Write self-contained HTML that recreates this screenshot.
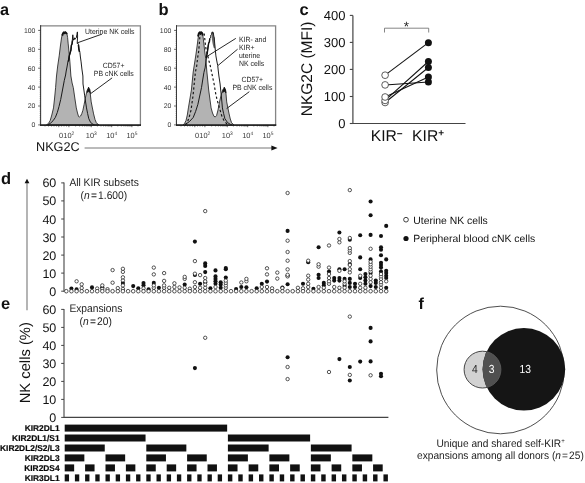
<!DOCTYPE html>
<html lang="en"><head><meta charset="utf-8"><title>Figure</title>
<style>html,body{margin:0;padding:0;background:#fff}svg{display:block;will-change:transform}</style></head>
<body>
<svg width="585" height="483" viewBox="0 0 585 483" text-rendering="geometricPrecision" font-family='"Liberation Sans", Arial, Helvetica, sans-serif'>
<rect width="585" height="483" fill="#fff"/>
<text x="0.0" y="14.5" font-size="16.3" font-weight="bold" fill="#111">a</text>
<text x="158.6" y="14.5" font-size="16.5" font-weight="bold" fill="#111">b</text>
<text x="299.6" y="14.5" font-size="16.5" font-weight="bold" fill="#111">c</text>
<text x="1.0" y="183.7" font-size="16.5" font-weight="bold" fill="#111">d</text>
<text x="1.0" y="309.3" font-size="16.5" font-weight="bold" fill="#111">e</text>
<text x="418.5" y="309.4" font-size="16" font-weight="bold" fill="#111">f</text>
<path d="M40.6,25.8 H140.4 V124.9" fill="none" stroke="#858585" stroke-width="1.3"/>
<line x1="38.2" y1="124.9" x2="40.6" y2="124.9" stroke="#333" stroke-width="0.8"/>
<text x="35.4" y="127.3" font-size="6.9" text-anchor="end" fill="#383838">0</text>
<line x1="38.2" y1="106.0" x2="40.6" y2="106.0" stroke="#333" stroke-width="0.8"/>
<text x="35.4" y="108.4" font-size="6.9" text-anchor="end" fill="#383838">20</text>
<line x1="38.2" y1="87.1" x2="40.6" y2="87.1" stroke="#333" stroke-width="0.8"/>
<text x="35.4" y="89.5" font-size="6.9" text-anchor="end" fill="#383838">40</text>
<line x1="38.2" y1="68.2" x2="40.6" y2="68.2" stroke="#333" stroke-width="0.8"/>
<text x="35.4" y="70.6" font-size="6.9" text-anchor="end" fill="#383838">60</text>
<line x1="38.2" y1="49.3" x2="40.6" y2="49.3" stroke="#333" stroke-width="0.8"/>
<text x="35.4" y="51.7" font-size="6.9" text-anchor="end" fill="#383838">80</text>
<line x1="38.2" y1="30.4" x2="40.6" y2="30.4" stroke="#333" stroke-width="0.8"/>
<text x="35.4" y="32.8" font-size="6.9" text-anchor="end" fill="#383838">100</text>
<line x1="39.6" y1="123.0" x2="40.6" y2="123.0" stroke="#444" stroke-width="0.5"/>
<line x1="39.6" y1="121.1" x2="40.6" y2="121.1" stroke="#444" stroke-width="0.5"/>
<line x1="39.6" y1="119.2" x2="40.6" y2="119.2" stroke="#444" stroke-width="0.5"/>
<line x1="39.6" y1="117.3" x2="40.6" y2="117.3" stroke="#444" stroke-width="0.5"/>
<line x1="39.6" y1="115.5" x2="40.6" y2="115.5" stroke="#444" stroke-width="0.5"/>
<line x1="39.6" y1="113.6" x2="40.6" y2="113.6" stroke="#444" stroke-width="0.5"/>
<line x1="39.6" y1="111.7" x2="40.6" y2="111.7" stroke="#444" stroke-width="0.5"/>
<line x1="39.6" y1="109.8" x2="40.6" y2="109.8" stroke="#444" stroke-width="0.5"/>
<line x1="39.6" y1="107.9" x2="40.6" y2="107.9" stroke="#444" stroke-width="0.5"/>
<line x1="39.6" y1="104.1" x2="40.6" y2="104.1" stroke="#444" stroke-width="0.5"/>
<line x1="39.6" y1="102.2" x2="40.6" y2="102.2" stroke="#444" stroke-width="0.5"/>
<line x1="39.6" y1="100.3" x2="40.6" y2="100.3" stroke="#444" stroke-width="0.5"/>
<line x1="39.6" y1="98.4" x2="40.6" y2="98.4" stroke="#444" stroke-width="0.5"/>
<line x1="39.6" y1="96.6" x2="40.6" y2="96.6" stroke="#444" stroke-width="0.5"/>
<line x1="39.6" y1="94.7" x2="40.6" y2="94.7" stroke="#444" stroke-width="0.5"/>
<line x1="39.6" y1="92.8" x2="40.6" y2="92.8" stroke="#444" stroke-width="0.5"/>
<line x1="39.6" y1="90.9" x2="40.6" y2="90.9" stroke="#444" stroke-width="0.5"/>
<line x1="39.6" y1="89.0" x2="40.6" y2="89.0" stroke="#444" stroke-width="0.5"/>
<line x1="39.6" y1="85.2" x2="40.6" y2="85.2" stroke="#444" stroke-width="0.5"/>
<line x1="39.6" y1="83.3" x2="40.6" y2="83.3" stroke="#444" stroke-width="0.5"/>
<line x1="39.6" y1="81.4" x2="40.6" y2="81.4" stroke="#444" stroke-width="0.5"/>
<line x1="39.6" y1="79.5" x2="40.6" y2="79.5" stroke="#444" stroke-width="0.5"/>
<line x1="39.6" y1="77.7" x2="40.6" y2="77.7" stroke="#444" stroke-width="0.5"/>
<line x1="39.6" y1="75.8" x2="40.6" y2="75.8" stroke="#444" stroke-width="0.5"/>
<line x1="39.6" y1="73.9" x2="40.6" y2="73.9" stroke="#444" stroke-width="0.5"/>
<line x1="39.6" y1="72.0" x2="40.6" y2="72.0" stroke="#444" stroke-width="0.5"/>
<line x1="39.6" y1="70.1" x2="40.6" y2="70.1" stroke="#444" stroke-width="0.5"/>
<line x1="39.6" y1="66.3" x2="40.6" y2="66.3" stroke="#444" stroke-width="0.5"/>
<line x1="39.6" y1="64.4" x2="40.6" y2="64.4" stroke="#444" stroke-width="0.5"/>
<line x1="39.6" y1="62.5" x2="40.6" y2="62.5" stroke="#444" stroke-width="0.5"/>
<line x1="39.6" y1="60.6" x2="40.6" y2="60.6" stroke="#444" stroke-width="0.5"/>
<line x1="39.6" y1="58.8" x2="40.6" y2="58.8" stroke="#444" stroke-width="0.5"/>
<line x1="39.6" y1="56.9" x2="40.6" y2="56.9" stroke="#444" stroke-width="0.5"/>
<line x1="39.6" y1="55.0" x2="40.6" y2="55.0" stroke="#444" stroke-width="0.5"/>
<line x1="39.6" y1="53.1" x2="40.6" y2="53.1" stroke="#444" stroke-width="0.5"/>
<line x1="39.6" y1="51.2" x2="40.6" y2="51.2" stroke="#444" stroke-width="0.5"/>
<line x1="39.6" y1="47.4" x2="40.6" y2="47.4" stroke="#444" stroke-width="0.5"/>
<line x1="39.6" y1="45.5" x2="40.6" y2="45.5" stroke="#444" stroke-width="0.5"/>
<line x1="39.6" y1="43.6" x2="40.6" y2="43.6" stroke="#444" stroke-width="0.5"/>
<line x1="39.6" y1="41.7" x2="40.6" y2="41.7" stroke="#444" stroke-width="0.5"/>
<line x1="39.6" y1="39.9" x2="40.6" y2="39.9" stroke="#444" stroke-width="0.5"/>
<line x1="39.6" y1="38.0" x2="40.6" y2="38.0" stroke="#444" stroke-width="0.5"/>
<line x1="39.6" y1="36.1" x2="40.6" y2="36.1" stroke="#444" stroke-width="0.5"/>
<line x1="39.6" y1="34.2" x2="40.6" y2="34.2" stroke="#444" stroke-width="0.5"/>
<line x1="39.6" y1="32.3" x2="40.6" y2="32.3" stroke="#444" stroke-width="0.5"/>
<text x="63.2" y="137.5" font-size="7.4" text-anchor="end" fill="#3a3a3a">0</text>
<text x="63.3" y="137.5" font-size="7.4" fill="#3a3a3a">10<tspan font-size="4.9" dy="-2.8">2</tspan></text>
<text x="85.8" y="137.5" font-size="7.4" fill="#3a3a3a">10<tspan font-size="4.9" dy="-2.8">3</tspan></text>
<text x="106.2" y="137.5" font-size="7.4" fill="#3a3a3a">10<tspan font-size="4.9" dy="-2.8">4</tspan></text>
<text x="126.4" y="137.5" font-size="7.4" fill="#3a3a3a">10<tspan font-size="4.9" dy="-2.8">5</tspan></text>
<line x1="58.8" y1="124.9" x2="58.8" y2="127.2" stroke="#333" stroke-width="0.7"/>
<line x1="68.9" y1="124.9" x2="68.9" y2="127.2" stroke="#333" stroke-width="0.7"/>
<line x1="91.3" y1="124.9" x2="91.3" y2="127.2" stroke="#333" stroke-width="0.7"/>
<line x1="111.7" y1="124.9" x2="111.7" y2="127.2" stroke="#333" stroke-width="0.7"/>
<line x1="131.9" y1="124.9" x2="131.9" y2="127.2" stroke="#333" stroke-width="0.7"/>
<line x1="75.6" y1="124.9" x2="75.6" y2="126.5" stroke="#333" stroke-width="0.6"/>
<line x1="79.6" y1="124.9" x2="79.6" y2="126.5" stroke="#333" stroke-width="0.6"/>
<line x1="82.4" y1="124.9" x2="82.4" y2="126.5" stroke="#333" stroke-width="0.6"/>
<line x1="84.6" y1="124.9" x2="84.6" y2="126.5" stroke="#333" stroke-width="0.6"/>
<line x1="86.3" y1="124.9" x2="86.3" y2="126.5" stroke="#333" stroke-width="0.6"/>
<line x1="87.8" y1="124.9" x2="87.8" y2="126.5" stroke="#333" stroke-width="0.6"/>
<line x1="89.1" y1="124.9" x2="89.1" y2="126.5" stroke="#333" stroke-width="0.6"/>
<line x1="90.3" y1="124.9" x2="90.3" y2="126.5" stroke="#333" stroke-width="0.6"/>
<line x1="97.4" y1="124.9" x2="97.4" y2="126.5" stroke="#333" stroke-width="0.6"/>
<line x1="101.0" y1="124.9" x2="101.0" y2="126.5" stroke="#333" stroke-width="0.6"/>
<line x1="103.6" y1="124.9" x2="103.6" y2="126.5" stroke="#333" stroke-width="0.6"/>
<line x1="105.6" y1="124.9" x2="105.6" y2="126.5" stroke="#333" stroke-width="0.6"/>
<line x1="107.2" y1="124.9" x2="107.2" y2="126.5" stroke="#333" stroke-width="0.6"/>
<line x1="108.5" y1="124.9" x2="108.5" y2="126.5" stroke="#333" stroke-width="0.6"/>
<line x1="109.7" y1="124.9" x2="109.7" y2="126.5" stroke="#333" stroke-width="0.6"/>
<line x1="110.8" y1="124.9" x2="110.8" y2="126.5" stroke="#333" stroke-width="0.6"/>
<line x1="117.8" y1="124.9" x2="117.8" y2="126.5" stroke="#333" stroke-width="0.6"/>
<line x1="121.3" y1="124.9" x2="121.3" y2="126.5" stroke="#333" stroke-width="0.6"/>
<line x1="123.9" y1="124.9" x2="123.9" y2="126.5" stroke="#333" stroke-width="0.6"/>
<line x1="125.8" y1="124.9" x2="125.8" y2="126.5" stroke="#333" stroke-width="0.6"/>
<line x1="127.4" y1="124.9" x2="127.4" y2="126.5" stroke="#333" stroke-width="0.6"/>
<line x1="128.8" y1="124.9" x2="128.8" y2="126.5" stroke="#333" stroke-width="0.6"/>
<line x1="129.9" y1="124.9" x2="129.9" y2="126.5" stroke="#333" stroke-width="0.6"/>
<line x1="131.0" y1="124.9" x2="131.0" y2="126.5" stroke="#333" stroke-width="0.6"/>
<line x1="138.0" y1="124.9" x2="138.0" y2="126.5" stroke="#333" stroke-width="0.6"/>
<line x1="45.0" y1="124.9" x2="45.0" y2="126.5" stroke="#333" stroke-width="0.6"/>
<line x1="48.5" y1="124.9" x2="48.5" y2="126.5" stroke="#333" stroke-width="0.6"/>
<line x1="51.5" y1="124.9" x2="51.5" y2="126.5" stroke="#333" stroke-width="0.6"/>
<line x1="54.0" y1="124.9" x2="54.0" y2="126.5" stroke="#333" stroke-width="0.6"/>
<line x1="56.5" y1="124.9" x2="56.5" y2="126.5" stroke="#333" stroke-width="0.6"/>
<line x1="61.5" y1="124.9" x2="61.5" y2="126.5" stroke="#333" stroke-width="0.6"/>
<line x1="64.0" y1="124.9" x2="64.0" y2="126.5" stroke="#333" stroke-width="0.6"/>
<line x1="66.5" y1="124.9" x2="66.5" y2="126.5" stroke="#333" stroke-width="0.6"/>
<path d="M176.5,25.8 H275.6 V124.9" fill="none" stroke="#858585" stroke-width="1.3"/>
<line x1="174.1" y1="124.9" x2="176.5" y2="124.9" stroke="#333" stroke-width="0.8"/>
<text x="171.3" y="127.3" font-size="6.9" text-anchor="end" fill="#383838">0</text>
<line x1="174.1" y1="106.0" x2="176.5" y2="106.0" stroke="#333" stroke-width="0.8"/>
<text x="171.3" y="108.4" font-size="6.9" text-anchor="end" fill="#383838">20</text>
<line x1="174.1" y1="87.1" x2="176.5" y2="87.1" stroke="#333" stroke-width="0.8"/>
<text x="171.3" y="89.5" font-size="6.9" text-anchor="end" fill="#383838">40</text>
<line x1="174.1" y1="68.2" x2="176.5" y2="68.2" stroke="#333" stroke-width="0.8"/>
<text x="171.3" y="70.6" font-size="6.9" text-anchor="end" fill="#383838">60</text>
<line x1="174.1" y1="49.3" x2="176.5" y2="49.3" stroke="#333" stroke-width="0.8"/>
<text x="171.3" y="51.7" font-size="6.9" text-anchor="end" fill="#383838">80</text>
<line x1="174.1" y1="30.4" x2="176.5" y2="30.4" stroke="#333" stroke-width="0.8"/>
<text x="171.3" y="32.8" font-size="6.9" text-anchor="end" fill="#383838">100</text>
<line x1="175.5" y1="123.0" x2="176.5" y2="123.0" stroke="#444" stroke-width="0.5"/>
<line x1="175.5" y1="121.1" x2="176.5" y2="121.1" stroke="#444" stroke-width="0.5"/>
<line x1="175.5" y1="119.2" x2="176.5" y2="119.2" stroke="#444" stroke-width="0.5"/>
<line x1="175.5" y1="117.3" x2="176.5" y2="117.3" stroke="#444" stroke-width="0.5"/>
<line x1="175.5" y1="115.5" x2="176.5" y2="115.5" stroke="#444" stroke-width="0.5"/>
<line x1="175.5" y1="113.6" x2="176.5" y2="113.6" stroke="#444" stroke-width="0.5"/>
<line x1="175.5" y1="111.7" x2="176.5" y2="111.7" stroke="#444" stroke-width="0.5"/>
<line x1="175.5" y1="109.8" x2="176.5" y2="109.8" stroke="#444" stroke-width="0.5"/>
<line x1="175.5" y1="107.9" x2="176.5" y2="107.9" stroke="#444" stroke-width="0.5"/>
<line x1="175.5" y1="104.1" x2="176.5" y2="104.1" stroke="#444" stroke-width="0.5"/>
<line x1="175.5" y1="102.2" x2="176.5" y2="102.2" stroke="#444" stroke-width="0.5"/>
<line x1="175.5" y1="100.3" x2="176.5" y2="100.3" stroke="#444" stroke-width="0.5"/>
<line x1="175.5" y1="98.4" x2="176.5" y2="98.4" stroke="#444" stroke-width="0.5"/>
<line x1="175.5" y1="96.6" x2="176.5" y2="96.6" stroke="#444" stroke-width="0.5"/>
<line x1="175.5" y1="94.7" x2="176.5" y2="94.7" stroke="#444" stroke-width="0.5"/>
<line x1="175.5" y1="92.8" x2="176.5" y2="92.8" stroke="#444" stroke-width="0.5"/>
<line x1="175.5" y1="90.9" x2="176.5" y2="90.9" stroke="#444" stroke-width="0.5"/>
<line x1="175.5" y1="89.0" x2="176.5" y2="89.0" stroke="#444" stroke-width="0.5"/>
<line x1="175.5" y1="85.2" x2="176.5" y2="85.2" stroke="#444" stroke-width="0.5"/>
<line x1="175.5" y1="83.3" x2="176.5" y2="83.3" stroke="#444" stroke-width="0.5"/>
<line x1="175.5" y1="81.4" x2="176.5" y2="81.4" stroke="#444" stroke-width="0.5"/>
<line x1="175.5" y1="79.5" x2="176.5" y2="79.5" stroke="#444" stroke-width="0.5"/>
<line x1="175.5" y1="77.7" x2="176.5" y2="77.7" stroke="#444" stroke-width="0.5"/>
<line x1="175.5" y1="75.8" x2="176.5" y2="75.8" stroke="#444" stroke-width="0.5"/>
<line x1="175.5" y1="73.9" x2="176.5" y2="73.9" stroke="#444" stroke-width="0.5"/>
<line x1="175.5" y1="72.0" x2="176.5" y2="72.0" stroke="#444" stroke-width="0.5"/>
<line x1="175.5" y1="70.1" x2="176.5" y2="70.1" stroke="#444" stroke-width="0.5"/>
<line x1="175.5" y1="66.3" x2="176.5" y2="66.3" stroke="#444" stroke-width="0.5"/>
<line x1="175.5" y1="64.4" x2="176.5" y2="64.4" stroke="#444" stroke-width="0.5"/>
<line x1="175.5" y1="62.5" x2="176.5" y2="62.5" stroke="#444" stroke-width="0.5"/>
<line x1="175.5" y1="60.6" x2="176.5" y2="60.6" stroke="#444" stroke-width="0.5"/>
<line x1="175.5" y1="58.8" x2="176.5" y2="58.8" stroke="#444" stroke-width="0.5"/>
<line x1="175.5" y1="56.9" x2="176.5" y2="56.9" stroke="#444" stroke-width="0.5"/>
<line x1="175.5" y1="55.0" x2="176.5" y2="55.0" stroke="#444" stroke-width="0.5"/>
<line x1="175.5" y1="53.1" x2="176.5" y2="53.1" stroke="#444" stroke-width="0.5"/>
<line x1="175.5" y1="51.2" x2="176.5" y2="51.2" stroke="#444" stroke-width="0.5"/>
<line x1="175.5" y1="47.4" x2="176.5" y2="47.4" stroke="#444" stroke-width="0.5"/>
<line x1="175.5" y1="45.5" x2="176.5" y2="45.5" stroke="#444" stroke-width="0.5"/>
<line x1="175.5" y1="43.6" x2="176.5" y2="43.6" stroke="#444" stroke-width="0.5"/>
<line x1="175.5" y1="41.7" x2="176.5" y2="41.7" stroke="#444" stroke-width="0.5"/>
<line x1="175.5" y1="39.9" x2="176.5" y2="39.9" stroke="#444" stroke-width="0.5"/>
<line x1="175.5" y1="38.0" x2="176.5" y2="38.0" stroke="#444" stroke-width="0.5"/>
<line x1="175.5" y1="36.1" x2="176.5" y2="36.1" stroke="#444" stroke-width="0.5"/>
<line x1="175.5" y1="34.2" x2="176.5" y2="34.2" stroke="#444" stroke-width="0.5"/>
<line x1="175.5" y1="32.3" x2="176.5" y2="32.3" stroke="#444" stroke-width="0.5"/>
<text x="199.2" y="137.5" font-size="7.4" text-anchor="end" fill="#3a3a3a">0</text>
<text x="199.3" y="137.5" font-size="7.4" fill="#3a3a3a">10<tspan font-size="4.9" dy="-2.8">2</tspan></text>
<text x="221.8" y="137.5" font-size="7.4" fill="#3a3a3a">10<tspan font-size="4.9" dy="-2.8">3</tspan></text>
<text x="242.2" y="137.5" font-size="7.4" fill="#3a3a3a">10<tspan font-size="4.9" dy="-2.8">4</tspan></text>
<text x="262.4" y="137.5" font-size="7.4" fill="#3a3a3a">10<tspan font-size="4.9" dy="-2.8">5</tspan></text>
<line x1="194.8" y1="124.9" x2="194.8" y2="127.2" stroke="#333" stroke-width="0.7"/>
<line x1="204.9" y1="124.9" x2="204.9" y2="127.2" stroke="#333" stroke-width="0.7"/>
<line x1="227.3" y1="124.9" x2="227.3" y2="127.2" stroke="#333" stroke-width="0.7"/>
<line x1="247.7" y1="124.9" x2="247.7" y2="127.2" stroke="#333" stroke-width="0.7"/>
<line x1="267.9" y1="124.9" x2="267.9" y2="127.2" stroke="#333" stroke-width="0.7"/>
<line x1="211.6" y1="124.9" x2="211.6" y2="126.5" stroke="#333" stroke-width="0.6"/>
<line x1="215.6" y1="124.9" x2="215.6" y2="126.5" stroke="#333" stroke-width="0.6"/>
<line x1="218.4" y1="124.9" x2="218.4" y2="126.5" stroke="#333" stroke-width="0.6"/>
<line x1="220.6" y1="124.9" x2="220.6" y2="126.5" stroke="#333" stroke-width="0.6"/>
<line x1="222.3" y1="124.9" x2="222.3" y2="126.5" stroke="#333" stroke-width="0.6"/>
<line x1="223.8" y1="124.9" x2="223.8" y2="126.5" stroke="#333" stroke-width="0.6"/>
<line x1="225.1" y1="124.9" x2="225.1" y2="126.5" stroke="#333" stroke-width="0.6"/>
<line x1="226.3" y1="124.9" x2="226.3" y2="126.5" stroke="#333" stroke-width="0.6"/>
<line x1="233.4" y1="124.9" x2="233.4" y2="126.5" stroke="#333" stroke-width="0.6"/>
<line x1="237.0" y1="124.9" x2="237.0" y2="126.5" stroke="#333" stroke-width="0.6"/>
<line x1="239.6" y1="124.9" x2="239.6" y2="126.5" stroke="#333" stroke-width="0.6"/>
<line x1="241.6" y1="124.9" x2="241.6" y2="126.5" stroke="#333" stroke-width="0.6"/>
<line x1="243.2" y1="124.9" x2="243.2" y2="126.5" stroke="#333" stroke-width="0.6"/>
<line x1="244.5" y1="124.9" x2="244.5" y2="126.5" stroke="#333" stroke-width="0.6"/>
<line x1="245.7" y1="124.9" x2="245.7" y2="126.5" stroke="#333" stroke-width="0.6"/>
<line x1="246.8" y1="124.9" x2="246.8" y2="126.5" stroke="#333" stroke-width="0.6"/>
<line x1="253.8" y1="124.9" x2="253.8" y2="126.5" stroke="#333" stroke-width="0.6"/>
<line x1="257.3" y1="124.9" x2="257.3" y2="126.5" stroke="#333" stroke-width="0.6"/>
<line x1="259.9" y1="124.9" x2="259.9" y2="126.5" stroke="#333" stroke-width="0.6"/>
<line x1="261.8" y1="124.9" x2="261.8" y2="126.5" stroke="#333" stroke-width="0.6"/>
<line x1="263.4" y1="124.9" x2="263.4" y2="126.5" stroke="#333" stroke-width="0.6"/>
<line x1="264.8" y1="124.9" x2="264.8" y2="126.5" stroke="#333" stroke-width="0.6"/>
<line x1="265.9" y1="124.9" x2="265.9" y2="126.5" stroke="#333" stroke-width="0.6"/>
<line x1="267.0" y1="124.9" x2="267.0" y2="126.5" stroke="#333" stroke-width="0.6"/>
<line x1="274.0" y1="124.9" x2="274.0" y2="126.5" stroke="#333" stroke-width="0.6"/>
<line x1="181.0" y1="124.9" x2="181.0" y2="126.5" stroke="#333" stroke-width="0.6"/>
<line x1="184.5" y1="124.9" x2="184.5" y2="126.5" stroke="#333" stroke-width="0.6"/>
<line x1="187.5" y1="124.9" x2="187.5" y2="126.5" stroke="#333" stroke-width="0.6"/>
<line x1="190.0" y1="124.9" x2="190.0" y2="126.5" stroke="#333" stroke-width="0.6"/>
<line x1="192.5" y1="124.9" x2="192.5" y2="126.5" stroke="#333" stroke-width="0.6"/>
<line x1="197.5" y1="124.9" x2="197.5" y2="126.5" stroke="#333" stroke-width="0.6"/>
<line x1="200.0" y1="124.9" x2="200.0" y2="126.5" stroke="#333" stroke-width="0.6"/>
<line x1="202.5" y1="124.9" x2="202.5" y2="126.5" stroke="#333" stroke-width="0.6"/>
<polygon points="46.5,124.9 48.5,123.4 50.2,120.5 51.8,115.0 53.5,107.9 54.6,98.0 55.6,87.6 56.5,76.0 57.7,66.0 59.2,55.9 60.4,46.0 61.5,38.0 62.3,34.5 63.1,33.4 63.8,32.0 64.5,33.0 65.3,31.9 66.1,32.6 66.9,33.4 67.6,37.5 68.2,43.9 69.0,52.0 69.9,61.9 70.9,76.0 72.1,83.0 73.3,87.6 74.8,98.0 76.3,107.9 77.5,113.0 78.6,116.6 79.6,116.9 80.6,116.0 81.8,113.6 82.9,110.3 84.1,104.5 85.3,98.3 86.6,92.5 87.4,89.8 88.0,88.9 88.5,87.4 89.1,88.6 89.7,89.5 90.4,95.0 91.2,101.9 92.4,108.0 93.6,113.9 95.0,119.5 96.3,122.6 97.6,124.0 99.0,124.9" fill="#b3b3b3" stroke="#222" stroke-width="0.85" stroke-linejoin="round"/>
<polyline points="47.8,124.9 50.5,123.2 53.0,120.8 55.3,117.5 57.3,112.5 59.0,106.5 60.7,99.5 62.5,90.0 64.3,80.4 65.6,75.0 66.2,71.0 67.0,67.0 67.9,61.9 68.6,60.5 69.2,56.5 70.3,52.3 71.0,49.5 71.5,45.0 72.1,43.9 72.5,38.0 72.8,34.8 73.2,38.5 73.9,39.3 74.6,38.1 75.4,38.7 76.3,37.8 76.9,34.5 77.4,31.9 77.6,36.0 77.2,43.5 77.9,43.2 78.5,44.5 79.0,49.5 79.9,52.3 80.4,57.0 81.1,61.9 81.9,69.0 82.9,76.0 83.0,84.0 83.9,90.0 84.7,95.9 85.6,102.0 86.5,107.9 87.6,113.5 88.8,118.7 90.4,122.0 92.4,124.0 94.5,124.9" fill="none" stroke="#111" stroke-width="0.95" stroke-linejoin="round"/>
<polyline points="68.0,61.5 68.6,60.3 69.3,55.6 70.2,52.6 70.9,50.2 71.3,45.5 72.0,44.0 72.5,40.5" fill="none" stroke="#111" stroke-width="1.5" stroke-linejoin="round"/>
<polyline points="78.4,44.6 78.9,49.5 79.5,52.0" fill="none" stroke="#111" stroke-width="1.5" stroke-linejoin="round"/>
<polyline points="72.9,40.0 73.6,39.6 74.6,38.5 75.6,38.6" fill="none" stroke="#111" stroke-width="1.3" stroke-linejoin="round"/>
<polyline points="62.2,35.6 63.0,33.4 63.8,32.3 64.5,33.2 65.3,32.2 66.1,32.9 66.9,34.0" fill="none" stroke="#111" stroke-width="1.9" stroke-linejoin="round"/>
<polygon points="86.9,92.6 87.6,89.6 88.1,88.9 88.6,87.2 89.2,88.6 89.8,89.8 90.4,93.0 88.8,91.4" fill="#111" stroke="#111" stroke-width="0.6" stroke-linejoin="round"/>
<line x1="40.6" y1="25.2" x2="40.6" y2="125.6" stroke="#2a2a2a" stroke-width="0.7"/>
<line x1="40.2" y1="125.05" x2="141.0" y2="125.05" stroke="#1c1c1c" stroke-width="1.15"/>
<line x1="176.5" y1="25.2" x2="176.5" y2="125.6" stroke="#2a2a2a" stroke-width="0.7"/>
<line x1="176.1" y1="125.05" x2="276.20000000000005" y2="125.05" stroke="#1c1c1c" stroke-width="1.15"/>
<text transform="translate(85.0,33.6) scale(0.915,1)" font-size="7.55" text-anchor="start" fill="#1c1c1c" >Uterine NK cells</text>
<line x1="77.2" y1="42.9" x2="102.0" y2="34.1" stroke="#1c1c1c" stroke-width="0.95"/>
<text transform="translate(113.6,67.6) scale(0.915,1)" font-size="7.55" text-anchor="middle" fill="#1c1c1c" >CD57+</text>
<text transform="translate(113.8,75.9) scale(0.915,1)" font-size="7.55" text-anchor="middle" fill="#1c1c1c" >PB cNK cells</text>
<line x1="112.1" y1="77.9" x2="90.0" y2="94.1" stroke="#1c1c1c" stroke-width="0.95"/>
<polygon points="183.0,124.9 184.6,123.4 186.0,120.5 187.3,115.0 188.4,107.9 189.9,99.0 191.4,90.0 192.4,80.0 193.2,72.0 194.6,63.0 196.0,54.0 197.1,46.0 198.0,39.0 198.6,35.0 199.2,33.4 199.8,32.0 200.4,33.0 201.1,31.9 201.8,32.6 202.5,33.4 203.2,38.0 203.9,43.9 204.8,52.0 205.7,58.3 206.3,65.0 206.9,72.0 207.8,81.0 208.7,90.0 209.9,99.0 211.1,107.9 212.5,113.0 214.0,116.4 215.3,116.9 216.6,115.5 218.0,110.0 219.5,101.9 220.7,97.0 221.9,92.3 223.0,89.6 223.7,88.8 224.3,87.4 224.9,88.6 225.5,89.8 226.1,95.0 226.7,101.9 227.9,108.0 229.1,113.9 230.3,119.0 231.5,122.5 232.8,124.0 234.0,124.9" fill="#b3b3b3" stroke="#222" stroke-width="0.85" stroke-linejoin="round"/>
<polyline points="185.2,124.9 187.4,122.3 189.2,117.0 191.0,110.3 192.0,103.0 193.0,95.9 194.2,84.0 195.4,72.0 196.7,66.0 197.6,58.0 198.6,52.0 199.3,44.0 199.9,36.5 200.6,34.0 201.5,33.2 203.0,33.0 204.3,34.2 204.9,40.0 205.7,47.5 206.9,52.5 208.1,57.1 209.0,61.0 209.9,64.3 210.8,68.5 211.7,72.7 212.9,78.5 214.1,84.0 215.0,89.5 215.9,94.7 216.8,98.5 217.7,101.9 219.5,108.0 221.9,116.3 223.7,120.0 225.5,122.3 227.9,124.9" fill="none" stroke="#111" stroke-width="1.15" stroke-dasharray="2.3,2.3" stroke-linejoin="round"/>
<polyline points="184.8,124.9 186.0,124.0 189.5,121.5 193.2,117.5 195.6,111.5 197.9,104.3 199.7,96.0 201.5,87.6 202.7,80.0 203.9,72.6 204.5,70.0 205.1,67.9 205.9,62.0 206.9,54.7 207.3,52.5 207.9,48.0 208.7,42.7 209.4,42.0 209.6,38.5 210.6,38.0 210.9,35.0 211.5,34.5 211.9,32.3 212.4,31.8 212.8,33.5 213.3,32.6 213.8,36.5 214.3,38.0 214.7,43.9 215.3,50.0 215.9,55.9 216.8,61.0 217.7,65.5 218.3,71.0 218.9,76.0 219.5,80.0 220.1,84.0 220.7,90.0 221.3,95.9 221.9,102.0 222.4,107.9 223.6,113.5 224.9,118.7 227.5,122.5 230.3,124.4 232.0,124.9" fill="none" stroke="#111" stroke-width="0.95" stroke-linejoin="round"/>
<polyline points="198.0,36.5 198.8,33.4 199.7,32.3 200.4,33.2 201.2,32.2 202.0,32.9 202.8,35.5" fill="none" stroke="#111" stroke-width="1.9" stroke-linejoin="round"/>
<polygon points="222.5,92.6 223.2,89.6 223.8,88.8 224.3,87.2 224.9,88.6 225.5,89.8 226.1,93.0 224.4,91.4" fill="#111" stroke="#111" stroke-width="0.6" stroke-linejoin="round"/>
<polygon points="211.6,35.0 212.6,32.2 213.4,33.0 214.4,37.5 215.0,42.0 215.2,48.5 213.6,47.8 212.6,43.5 211.9,39.5" fill="#2a2a2a" opacity="0.72"/>
<polyline points="206.3,58.0 206.9,54.7 207.4,52.0 207.9,48.0 208.7,43.0 209.4,41.8 209.8,38.6" fill="none" stroke="#111" stroke-width="1.4" stroke-linejoin="round"/>
<line x1="40.6" y1="25.2" x2="40.6" y2="125.6" stroke="#2a2a2a" stroke-width="0.7"/>
<line x1="40.2" y1="125.05" x2="141.0" y2="125.05" stroke="#1c1c1c" stroke-width="1.15"/>
<line x1="176.5" y1="25.2" x2="176.5" y2="125.6" stroke="#2a2a2a" stroke-width="0.7"/>
<line x1="176.1" y1="125.05" x2="276.20000000000005" y2="125.05" stroke="#1c1c1c" stroke-width="1.15"/>
<line x1="235.8" y1="38.4" x2="206.9" y2="56.5" stroke="#1c1c1c" stroke-width="0.95"/>
<line x1="237.6" y1="49.2" x2="218.0" y2="65.5" stroke="#1c1c1c" stroke-width="0.95"/>
<text transform="translate(239.0,42.2) scale(0.915,1)" font-size="7.55" text-anchor="start" fill="#1c1c1c" >KIR- and</text>
<text transform="translate(239.0,50.2) scale(0.915,1)" font-size="7.55" text-anchor="start" fill="#1c1c1c" >KIR+</text>
<text transform="translate(239.0,58.2) scale(0.915,1)" font-size="7.55" text-anchor="start" fill="#1c1c1c" >uterine</text>
<text transform="translate(239.0,66.2) scale(0.915,1)" font-size="7.55" text-anchor="start" fill="#1c1c1c" >NK cells</text>
<text transform="translate(252.3,82.0) scale(0.915,1)" font-size="7.55" text-anchor="middle" fill="#1c1c1c" >CD57+</text>
<text transform="translate(252.4,90.1) scale(0.915,1)" font-size="7.55" text-anchor="middle" fill="#1c1c1c" >PB cNK cells</text>
<line x1="249.3" y1="91.7" x2="226.6" y2="108.6" stroke="#1c1c1c" stroke-width="0.95"/>
<text x="36.0" y="151.4" font-size="12.7" text-anchor="start" fill="#111" >NKG2C</text>
<line x1="84.6" y1="148.0" x2="273" y2="148.0" stroke="#777" stroke-width="1.0"/>
<polygon points="271.4,145.5 277.6,148.0 271.4,150.5" fill="#111"/>
<path d="M352.9,15.4 V123.5 H465.5" fill="none" stroke="#444" stroke-width="1.2"/>
<line x1="349.8" y1="123.5" x2="352.9" y2="123.5" stroke="#444" stroke-width="1.1"/>
<text x="345.4" y="128.1" font-size="13" text-anchor="end" fill="#111" >0</text>
<line x1="349.8" y1="96.5" x2="352.9" y2="96.5" stroke="#444" stroke-width="1.1"/>
<text x="345.4" y="101.1" font-size="13" text-anchor="end" fill="#111" >100</text>
<line x1="349.8" y1="69.4" x2="352.9" y2="69.4" stroke="#444" stroke-width="1.1"/>
<text x="345.4" y="74.0" font-size="13" text-anchor="end" fill="#111" >200</text>
<line x1="349.8" y1="42.4" x2="352.9" y2="42.4" stroke="#444" stroke-width="1.1"/>
<text x="345.4" y="47.0" font-size="13" text-anchor="end" fill="#111" >300</text>
<line x1="349.8" y1="15.4" x2="352.9" y2="15.4" stroke="#444" stroke-width="1.1"/>
<text x="345.4" y="20.0" font-size="13" text-anchor="end" fill="#111" >400</text>
<text transform="translate(312.0,116.3) rotate(-90)" font-size="15.5" fill="#111">NKG2C (MFI)</text>
<line x1="385.1" y1="75.2" x2="428.4" y2="42.7" stroke="#111" stroke-width="1.05"/>
<line x1="385.1" y1="84.9" x2="428.4" y2="82.0" stroke="#111" stroke-width="1.05"/>
<line x1="385.1" y1="97.0" x2="428.4" y2="77.0" stroke="#111" stroke-width="1.05"/>
<line x1="385.1" y1="100.4" x2="428.4" y2="61.5" stroke="#111" stroke-width="1.05"/>
<line x1="385.1" y1="102.5" x2="428.4" y2="67.5" stroke="#111" stroke-width="1.05"/>
<circle cx="385.1" cy="102.5" r="3.35" fill="#fff" stroke="#333" stroke-width="0.8"/>
<circle cx="385.1" cy="100.4" r="3.35" fill="#fff" stroke="#333" stroke-width="0.8"/>
<circle cx="385.1" cy="97.0" r="3.35" fill="#fff" stroke="#333" stroke-width="0.8"/>
<circle cx="385.1" cy="84.9" r="3.35" fill="#fff" stroke="#333" stroke-width="0.8"/>
<circle cx="385.1" cy="75.2" r="3.35" fill="#fff" stroke="#333" stroke-width="0.8"/>
<circle cx="428.4" cy="42.7" r="3.5" fill="#111"/>
<circle cx="428.4" cy="82.0" r="3.5" fill="#111"/>
<circle cx="428.4" cy="77.0" r="3.5" fill="#111"/>
<circle cx="428.4" cy="61.5" r="3.5" fill="#111"/>
<circle cx="428.4" cy="67.5" r="3.5" fill="#111"/>
<path d="M384.5,32.5 V28.2 H428.7 V32.5" fill="none" stroke="#666" stroke-width="0.8"/>
<text x="406.3" y="30.9" font-size="13.5" text-anchor="middle" fill="#222" >*</text>
<text x="370.7" y="140.9" font-size="15.7" fill="#111">KIR<tspan font-size="10" font-weight="bold" dy="-4.3">−</tspan></text>
<text x="412.1" y="140.9" font-size="15.7" fill="#111">KIR<tspan font-size="10" font-weight="bold" dy="-5.2">+</tspan></text>
<line x1="27.0" y1="182" x2="27.0" y2="310.3" stroke="#777" stroke-width="1.1"/>
<polygon points="24.6,183.2 27.0,178.8 29.4,183.2" fill="#111"/>
<text transform="translate(30.1,403.3) rotate(-90)" font-size="14.75" fill="#111">NK cells (%)</text>
<line x1="64.0" y1="182.5" x2="64.0" y2="291.7" stroke="#444" stroke-width="1.1"/>
<line x1="61.2" y1="291.2" x2="64.0" y2="291.2" stroke="#444" stroke-width="1.0"/>
<text x="56.3" y="295.7" font-size="12.5" text-anchor="end" fill="#111" >0</text>
<line x1="61.2" y1="273.1" x2="64.0" y2="273.1" stroke="#444" stroke-width="1.0"/>
<text x="56.3" y="277.6" font-size="12.5" text-anchor="end" fill="#111" >10</text>
<line x1="61.2" y1="255.1" x2="64.0" y2="255.1" stroke="#444" stroke-width="1.0"/>
<text x="56.3" y="259.6" font-size="12.5" text-anchor="end" fill="#111" >20</text>
<line x1="61.2" y1="237.0" x2="64.0" y2="237.0" stroke="#444" stroke-width="1.0"/>
<text x="56.3" y="241.5" font-size="12.5" text-anchor="end" fill="#111" >30</text>
<line x1="61.2" y1="219.0" x2="64.0" y2="219.0" stroke="#444" stroke-width="1.0"/>
<text x="56.3" y="223.5" font-size="12.5" text-anchor="end" fill="#111" >40</text>
<line x1="61.2" y1="200.9" x2="64.0" y2="200.9" stroke="#444" stroke-width="1.0"/>
<text x="56.3" y="205.4" font-size="12.5" text-anchor="end" fill="#111" >50</text>
<line x1="61.2" y1="182.9" x2="64.0" y2="182.9" stroke="#444" stroke-width="1.0"/>
<text x="56.3" y="187.4" font-size="12.5" text-anchor="end" fill="#111" >60</text>
<line x1="64.0" y1="308.9" x2="64.0" y2="417.9" stroke="#444" stroke-width="1.1"/>
<line x1="61.2" y1="417.4" x2="64.0" y2="417.4" stroke="#444" stroke-width="1.0"/>
<text x="56.3" y="421.9" font-size="12.5" text-anchor="end" fill="#111" >0</text>
<line x1="61.2" y1="399.4" x2="64.0" y2="399.4" stroke="#444" stroke-width="1.0"/>
<text x="56.3" y="403.9" font-size="12.5" text-anchor="end" fill="#111" >10</text>
<line x1="61.2" y1="381.4" x2="64.0" y2="381.4" stroke="#444" stroke-width="1.0"/>
<text x="56.3" y="385.9" font-size="12.5" text-anchor="end" fill="#111" >20</text>
<line x1="61.2" y1="363.4" x2="64.0" y2="363.4" stroke="#444" stroke-width="1.0"/>
<text x="56.3" y="367.9" font-size="12.5" text-anchor="end" fill="#111" >30</text>
<line x1="61.2" y1="345.4" x2="64.0" y2="345.4" stroke="#444" stroke-width="1.0"/>
<text x="56.3" y="349.9" font-size="12.5" text-anchor="end" fill="#111" >40</text>
<line x1="61.2" y1="327.4" x2="64.0" y2="327.4" stroke="#444" stroke-width="1.0"/>
<text x="56.3" y="331.9" font-size="12.5" text-anchor="end" fill="#111" >50</text>
<line x1="61.2" y1="309.4" x2="64.0" y2="309.4" stroke="#444" stroke-width="1.0"/>
<text x="56.3" y="313.9" font-size="12.5" text-anchor="end" fill="#111" >60</text>
<line x1="64.0" y1="417.4" x2="388.4" y2="417.4" stroke="#444" stroke-width="1.1"/>
<text transform="translate(69.4,186.0) scale(0.93,1)" font-size="11.0" fill="#222">All KIR subsets</text>
<text transform="translate(80.6,198.6) scale(0.93,1)" font-size="11.0" fill="#222">(<tspan font-style="italic">n</tspan><tspan dx="1.3">=</tspan><tspan dx="1.3">1.600)</tspan></text>
<text transform="translate(69.4,312.2) scale(0.93,1)" font-size="11.0" fill="#222">Expansions</text>
<text transform="translate(79.6,324.8) scale(0.93,1)" font-size="11.0" fill="#222">(<tspan font-style="italic">n</tspan><tspan dx="1.3">=</tspan><tspan dx="1.3">20)</tspan></text>
<circle cx="71.4" cy="288.5" r="2.05" fill="#111"/>
<circle cx="76.6" cy="289.4" r="2.05" fill="#111"/>
<circle cx="76.6" cy="281.3" r="1.7" fill="#fff" stroke="#2a2a2a" stroke-width="0.8"/>
<circle cx="81.7" cy="288.0" r="1.7" fill="#fff" stroke="#2a2a2a" stroke-width="0.8"/>
<circle cx="81.7" cy="284.3" r="1.7" fill="#fff" stroke="#2a2a2a" stroke-width="0.8"/>
<circle cx="92.0" cy="287.4" r="2.05" fill="#111"/>
<circle cx="97.2" cy="288.5" r="1.7" fill="#fff" stroke="#2a2a2a" stroke-width="0.8"/>
<circle cx="102.3" cy="287.2" r="2.05" fill="#111"/>
<circle cx="102.3" cy="288.9" r="1.7" fill="#fff" stroke="#2a2a2a" stroke-width="0.8"/>
<circle cx="102.3" cy="285.4" r="1.7" fill="#fff" stroke="#2a2a2a" stroke-width="0.8"/>
<circle cx="107.5" cy="289.2" r="1.7" fill="#fff" stroke="#2a2a2a" stroke-width="0.8"/>
<circle cx="112.6" cy="282.7" r="1.7" fill="#fff" stroke="#2a2a2a" stroke-width="0.8"/>
<circle cx="112.6" cy="270.1" r="1.7" fill="#fff" stroke="#2a2a2a" stroke-width="0.8"/>
<circle cx="117.8" cy="288.1" r="1.7" fill="#fff" stroke="#2a2a2a" stroke-width="0.8"/>
<circle cx="122.9" cy="283.1" r="2.05" fill="#111"/>
<circle cx="122.9" cy="288.9" r="1.7" fill="#fff" stroke="#2a2a2a" stroke-width="0.8"/>
<circle cx="122.9" cy="285.4" r="1.7" fill="#fff" stroke="#2a2a2a" stroke-width="0.8"/>
<circle cx="122.9" cy="280.4" r="1.7" fill="#fff" stroke="#2a2a2a" stroke-width="0.8"/>
<circle cx="122.9" cy="277.3" r="1.7" fill="#fff" stroke="#2a2a2a" stroke-width="0.8"/>
<circle cx="122.9" cy="271.9" r="1.7" fill="#fff" stroke="#2a2a2a" stroke-width="0.8"/>
<circle cx="122.9" cy="268.8" r="1.7" fill="#fff" stroke="#2a2a2a" stroke-width="0.8"/>
<circle cx="133.2" cy="286.1" r="2.05" fill="#111"/>
<circle cx="138.3" cy="288.3" r="2.05" fill="#111"/>
<circle cx="143.5" cy="285.2" r="2.05" fill="#111"/>
<circle cx="143.5" cy="283.1" r="2.05" fill="#111"/>
<circle cx="143.5" cy="288.3" r="1.7" fill="#fff" stroke="#2a2a2a" stroke-width="0.8"/>
<circle cx="148.6" cy="289.2" r="2.05" fill="#111"/>
<circle cx="153.8" cy="282.9" r="2.05" fill="#111"/>
<circle cx="153.8" cy="287.8" r="1.7" fill="#fff" stroke="#2a2a2a" stroke-width="0.8"/>
<circle cx="153.8" cy="285.4" r="1.7" fill="#fff" stroke="#2a2a2a" stroke-width="0.8"/>
<circle cx="153.8" cy="274.4" r="1.7" fill="#fff" stroke="#2a2a2a" stroke-width="0.8"/>
<circle cx="153.8" cy="267.6" r="1.7" fill="#fff" stroke="#2a2a2a" stroke-width="0.8"/>
<circle cx="158.9" cy="287.8" r="2.05" fill="#111"/>
<circle cx="164.1" cy="287.8" r="1.7" fill="#fff" stroke="#2a2a2a" stroke-width="0.8"/>
<circle cx="164.1" cy="285.4" r="1.7" fill="#fff" stroke="#2a2a2a" stroke-width="0.8"/>
<circle cx="164.1" cy="280.9" r="1.7" fill="#fff" stroke="#2a2a2a" stroke-width="0.8"/>
<circle cx="164.1" cy="273.1" r="1.7" fill="#fff" stroke="#2a2a2a" stroke-width="0.8"/>
<circle cx="169.2" cy="287.8" r="1.7" fill="#fff" stroke="#2a2a2a" stroke-width="0.8"/>
<circle cx="174.4" cy="287.0" r="1.7" fill="#fff" stroke="#2a2a2a" stroke-width="0.8"/>
<circle cx="174.4" cy="283.3" r="1.7" fill="#fff" stroke="#2a2a2a" stroke-width="0.8"/>
<circle cx="179.5" cy="287.4" r="1.7" fill="#fff" stroke="#2a2a2a" stroke-width="0.8"/>
<circle cx="184.7" cy="284.5" r="2.05" fill="#111"/>
<circle cx="184.7" cy="287.8" r="1.7" fill="#fff" stroke="#2a2a2a" stroke-width="0.8"/>
<circle cx="184.7" cy="278.9" r="1.7" fill="#fff" stroke="#2a2a2a" stroke-width="0.8"/>
<circle cx="184.7" cy="276.9" r="1.7" fill="#fff" stroke="#2a2a2a" stroke-width="0.8"/>
<circle cx="189.8" cy="288.7" r="1.7" fill="#fff" stroke="#2a2a2a" stroke-width="0.8"/>
<circle cx="194.9" cy="275.0" r="2.05" fill="#111"/>
<circle cx="194.9" cy="241.6" r="2.05" fill="#111"/>
<circle cx="194.9" cy="287.0" r="1.7" fill="#fff" stroke="#2a2a2a" stroke-width="0.8"/>
<circle cx="194.9" cy="282.2" r="1.7" fill="#fff" stroke="#2a2a2a" stroke-width="0.8"/>
<circle cx="194.9" cy="273.7" r="1.7" fill="#fff" stroke="#2a2a2a" stroke-width="0.8"/>
<circle cx="194.9" cy="261.1" r="1.7" fill="#fff" stroke="#2a2a2a" stroke-width="0.8"/>
<circle cx="200.1" cy="283.8" r="2.05" fill="#111"/>
<circle cx="200.1" cy="287.8" r="1.7" fill="#fff" stroke="#2a2a2a" stroke-width="0.8"/>
<circle cx="200.1" cy="275.1" r="1.7" fill="#fff" stroke="#2a2a2a" stroke-width="0.8"/>
<circle cx="205.2" cy="282.2" r="2.05" fill="#111"/>
<circle cx="205.2" cy="272.1" r="2.05" fill="#111"/>
<circle cx="205.2" cy="265.9" r="2.05" fill="#111"/>
<circle cx="205.2" cy="263.4" r="2.05" fill="#111"/>
<circle cx="205.2" cy="287.8" r="1.7" fill="#fff" stroke="#2a2a2a" stroke-width="0.8"/>
<circle cx="205.2" cy="284.5" r="1.7" fill="#fff" stroke="#2a2a2a" stroke-width="0.8"/>
<circle cx="205.2" cy="281.3" r="1.7" fill="#fff" stroke="#2a2a2a" stroke-width="0.8"/>
<circle cx="205.2" cy="278.0" r="1.7" fill="#fff" stroke="#2a2a2a" stroke-width="0.8"/>
<circle cx="205.2" cy="211.1" r="1.7" fill="#fff" stroke="#2a2a2a" stroke-width="0.8"/>
<circle cx="210.4" cy="288.3" r="2.05" fill="#111"/>
<circle cx="215.5" cy="283.8" r="2.05" fill="#111"/>
<circle cx="215.5" cy="281.3" r="2.05" fill="#111"/>
<circle cx="215.5" cy="278.9" r="2.05" fill="#111"/>
<circle cx="215.5" cy="276.4" r="2.05" fill="#111"/>
<circle cx="215.5" cy="270.4" r="2.05" fill="#111"/>
<circle cx="215.5" cy="287.0" r="1.7" fill="#fff" stroke="#2a2a2a" stroke-width="0.8"/>
<circle cx="220.7" cy="287.8" r="2.05" fill="#111"/>
<circle cx="220.7" cy="284.5" r="2.05" fill="#111"/>
<circle cx="220.7" cy="282.2" r="2.05" fill="#111"/>
<circle cx="225.8" cy="277.5" r="2.05" fill="#111"/>
<circle cx="225.8" cy="269.2" r="2.05" fill="#111"/>
<circle cx="225.8" cy="268.1" r="2.05" fill="#111"/>
<circle cx="225.8" cy="287.8" r="1.7" fill="#fff" stroke="#2a2a2a" stroke-width="0.8"/>
<circle cx="225.8" cy="285.4" r="1.7" fill="#fff" stroke="#2a2a2a" stroke-width="0.8"/>
<circle cx="225.8" cy="282.9" r="1.7" fill="#fff" stroke="#2a2a2a" stroke-width="0.8"/>
<circle cx="225.8" cy="280.6" r="1.7" fill="#fff" stroke="#2a2a2a" stroke-width="0.8"/>
<circle cx="236.1" cy="289.0" r="2.05" fill="#111"/>
<circle cx="241.3" cy="287.0" r="2.05" fill="#111"/>
<circle cx="241.3" cy="282.5" r="1.7" fill="#fff" stroke="#2a2a2a" stroke-width="0.8"/>
<circle cx="246.4" cy="287.2" r="2.05" fill="#111"/>
<circle cx="246.4" cy="281.3" r="1.7" fill="#fff" stroke="#2a2a2a" stroke-width="0.8"/>
<circle cx="246.4" cy="278.9" r="1.7" fill="#fff" stroke="#2a2a2a" stroke-width="0.8"/>
<circle cx="256.7" cy="288.3" r="2.05" fill="#111"/>
<circle cx="261.8" cy="283.8" r="2.05" fill="#111"/>
<circle cx="261.8" cy="287.0" r="1.7" fill="#fff" stroke="#2a2a2a" stroke-width="0.8"/>
<circle cx="267.0" cy="281.6" r="2.05" fill="#111"/>
<circle cx="267.0" cy="287.0" r="1.7" fill="#fff" stroke="#2a2a2a" stroke-width="0.8"/>
<circle cx="267.0" cy="274.4" r="1.7" fill="#fff" stroke="#2a2a2a" stroke-width="0.8"/>
<circle cx="267.0" cy="268.3" r="1.7" fill="#fff" stroke="#2a2a2a" stroke-width="0.8"/>
<circle cx="272.1" cy="288.3" r="1.7" fill="#fff" stroke="#2a2a2a" stroke-width="0.8"/>
<circle cx="277.3" cy="278.6" r="1.7" fill="#fff" stroke="#2a2a2a" stroke-width="0.8"/>
<circle cx="277.3" cy="272.6" r="1.7" fill="#fff" stroke="#2a2a2a" stroke-width="0.8"/>
<circle cx="282.4" cy="287.6" r="2.05" fill="#111"/>
<circle cx="282.4" cy="288.1" r="1.7" fill="#fff" stroke="#2a2a2a" stroke-width="0.8"/>
<circle cx="287.6" cy="284.2" r="2.05" fill="#111"/>
<circle cx="287.6" cy="275.7" r="2.05" fill="#111"/>
<circle cx="287.6" cy="230.9" r="2.05" fill="#111"/>
<circle cx="287.6" cy="276.4" r="1.7" fill="#fff" stroke="#2a2a2a" stroke-width="0.8"/>
<circle cx="287.6" cy="274.8" r="1.7" fill="#fff" stroke="#2a2a2a" stroke-width="0.8"/>
<circle cx="287.6" cy="269.4" r="1.7" fill="#fff" stroke="#2a2a2a" stroke-width="0.8"/>
<circle cx="287.6" cy="260.7" r="1.7" fill="#fff" stroke="#2a2a2a" stroke-width="0.8"/>
<circle cx="287.6" cy="252.0" r="1.7" fill="#fff" stroke="#2a2a2a" stroke-width="0.8"/>
<circle cx="287.6" cy="240.7" r="1.7" fill="#fff" stroke="#2a2a2a" stroke-width="0.8"/>
<circle cx="287.6" cy="193.0" r="1.7" fill="#fff" stroke="#2a2a2a" stroke-width="0.8"/>
<circle cx="297.9" cy="287.8" r="1.7" fill="#fff" stroke="#2a2a2a" stroke-width="0.8"/>
<circle cx="303.0" cy="283.8" r="2.05" fill="#111"/>
<circle cx="303.0" cy="288.3" r="1.7" fill="#fff" stroke="#2a2a2a" stroke-width="0.8"/>
<circle cx="308.2" cy="262.3" r="2.05" fill="#111"/>
<circle cx="308.2" cy="287.0" r="1.7" fill="#fff" stroke="#2a2a2a" stroke-width="0.8"/>
<circle cx="308.2" cy="283.8" r="1.7" fill="#fff" stroke="#2a2a2a" stroke-width="0.8"/>
<circle cx="308.2" cy="279.6" r="1.7" fill="#fff" stroke="#2a2a2a" stroke-width="0.8"/>
<circle cx="308.2" cy="275.7" r="1.7" fill="#fff" stroke="#2a2a2a" stroke-width="0.8"/>
<circle cx="308.2" cy="260.7" r="1.7" fill="#fff" stroke="#2a2a2a" stroke-width="0.8"/>
<circle cx="313.4" cy="288.7" r="2.05" fill="#111"/>
<circle cx="318.6" cy="278.0" r="2.05" fill="#111"/>
<circle cx="318.6" cy="274.8" r="2.05" fill="#111"/>
<circle cx="318.6" cy="247.2" r="2.05" fill="#111"/>
<circle cx="318.6" cy="287.0" r="1.7" fill="#fff" stroke="#2a2a2a" stroke-width="0.8"/>
<circle cx="318.6" cy="266.7" r="1.7" fill="#fff" stroke="#2a2a2a" stroke-width="0.8"/>
<circle cx="318.6" cy="264.3" r="1.7" fill="#fff" stroke="#2a2a2a" stroke-width="0.8"/>
<circle cx="323.8" cy="285.4" r="2.05" fill="#111"/>
<circle cx="323.8" cy="282.9" r="2.05" fill="#111"/>
<circle cx="323.8" cy="287.8" r="1.7" fill="#fff" stroke="#2a2a2a" stroke-width="0.8"/>
<circle cx="329.0" cy="271.5" r="2.05" fill="#111"/>
<circle cx="329.0" cy="283.8" r="1.7" fill="#fff" stroke="#2a2a2a" stroke-width="0.8"/>
<circle cx="329.0" cy="281.3" r="1.7" fill="#fff" stroke="#2a2a2a" stroke-width="0.8"/>
<circle cx="329.0" cy="278.0" r="1.7" fill="#fff" stroke="#2a2a2a" stroke-width="0.8"/>
<circle cx="329.0" cy="274.1" r="1.7" fill="#fff" stroke="#2a2a2a" stroke-width="0.8"/>
<circle cx="329.0" cy="267.6" r="1.7" fill="#fff" stroke="#2a2a2a" stroke-width="0.8"/>
<circle cx="329.0" cy="245.5" r="1.7" fill="#fff" stroke="#2a2a2a" stroke-width="0.8"/>
<circle cx="334.2" cy="280.6" r="2.05" fill="#111"/>
<circle cx="334.2" cy="278.0" r="2.05" fill="#111"/>
<circle cx="334.2" cy="287.0" r="1.7" fill="#fff" stroke="#2a2a2a" stroke-width="0.8"/>
<circle cx="339.4" cy="280.6" r="2.05" fill="#111"/>
<circle cx="339.4" cy="278.0" r="2.05" fill="#111"/>
<circle cx="339.4" cy="269.2" r="2.05" fill="#111"/>
<circle cx="339.4" cy="232.5" r="2.05" fill="#111"/>
<circle cx="339.4" cy="287.8" r="1.7" fill="#fff" stroke="#2a2a2a" stroke-width="0.8"/>
<circle cx="339.4" cy="270.8" r="1.7" fill="#fff" stroke="#2a2a2a" stroke-width="0.8"/>
<circle cx="339.4" cy="242.3" r="1.7" fill="#fff" stroke="#2a2a2a" stroke-width="0.8"/>
<circle cx="339.4" cy="239.0" r="1.7" fill="#fff" stroke="#2a2a2a" stroke-width="0.8"/>
<circle cx="344.6" cy="285.8" r="2.05" fill="#111"/>
<circle cx="344.6" cy="278.9" r="2.05" fill="#111"/>
<circle cx="344.6" cy="269.2" r="2.05" fill="#111"/>
<circle cx="344.6" cy="287.8" r="1.7" fill="#fff" stroke="#2a2a2a" stroke-width="0.8"/>
<circle cx="344.6" cy="283.8" r="1.7" fill="#fff" stroke="#2a2a2a" stroke-width="0.8"/>
<circle cx="344.6" cy="281.3" r="1.7" fill="#fff" stroke="#2a2a2a" stroke-width="0.8"/>
<circle cx="349.8" cy="287.0" r="2.05" fill="#111"/>
<circle cx="349.8" cy="282.9" r="2.05" fill="#111"/>
<circle cx="349.8" cy="278.9" r="2.05" fill="#111"/>
<circle cx="349.8" cy="264.1" r="2.05" fill="#111"/>
<circle cx="349.8" cy="239.8" r="2.05" fill="#111"/>
<circle cx="349.8" cy="272.4" r="1.7" fill="#fff" stroke="#2a2a2a" stroke-width="0.8"/>
<circle cx="349.8" cy="269.2" r="1.7" fill="#fff" stroke="#2a2a2a" stroke-width="0.8"/>
<circle cx="349.8" cy="265.0" r="1.7" fill="#fff" stroke="#2a2a2a" stroke-width="0.8"/>
<circle cx="349.8" cy="261.1" r="1.7" fill="#fff" stroke="#2a2a2a" stroke-width="0.8"/>
<circle cx="349.8" cy="252.9" r="1.7" fill="#fff" stroke="#2a2a2a" stroke-width="0.8"/>
<circle cx="349.8" cy="250.4" r="1.7" fill="#fff" stroke="#2a2a2a" stroke-width="0.8"/>
<circle cx="349.8" cy="248.1" r="1.7" fill="#fff" stroke="#2a2a2a" stroke-width="0.8"/>
<circle cx="349.8" cy="238.0" r="1.7" fill="#fff" stroke="#2a2a2a" stroke-width="0.8"/>
<circle cx="349.8" cy="190.1" r="1.7" fill="#fff" stroke="#2a2a2a" stroke-width="0.8"/>
<circle cx="355.0" cy="287.0" r="2.05" fill="#111"/>
<circle cx="355.0" cy="283.8" r="2.05" fill="#111"/>
<circle cx="360.2" cy="278.0" r="2.05" fill="#111"/>
<circle cx="360.2" cy="269.2" r="2.05" fill="#111"/>
<circle cx="360.2" cy="257.4" r="2.05" fill="#111"/>
<circle cx="360.2" cy="235.2" r="2.05" fill="#111"/>
<circle cx="360.2" cy="287.8" r="1.7" fill="#fff" stroke="#2a2a2a" stroke-width="0.8"/>
<circle cx="360.2" cy="283.8" r="1.7" fill="#fff" stroke="#2a2a2a" stroke-width="0.8"/>
<circle cx="360.2" cy="275.7" r="1.7" fill="#fff" stroke="#2a2a2a" stroke-width="0.8"/>
<circle cx="365.4" cy="283.8" r="2.05" fill="#111"/>
<circle cx="365.4" cy="280.6" r="2.05" fill="#111"/>
<circle cx="365.4" cy="277.3" r="2.05" fill="#111"/>
<circle cx="365.4" cy="274.1" r="2.05" fill="#111"/>
<circle cx="365.4" cy="287.8" r="1.7" fill="#fff" stroke="#2a2a2a" stroke-width="0.8"/>
<circle cx="370.6" cy="286.1" r="2.05" fill="#111"/>
<circle cx="370.6" cy="273.1" r="2.05" fill="#111"/>
<circle cx="370.6" cy="259.4" r="2.05" fill="#111"/>
<circle cx="370.6" cy="234.9" r="2.05" fill="#111"/>
<circle cx="370.6" cy="215.2" r="2.05" fill="#111"/>
<circle cx="370.6" cy="201.5" r="2.05" fill="#111"/>
<circle cx="370.6" cy="282.2" r="1.7" fill="#fff" stroke="#2a2a2a" stroke-width="0.8"/>
<circle cx="370.6" cy="278.9" r="1.7" fill="#fff" stroke="#2a2a2a" stroke-width="0.8"/>
<circle cx="370.6" cy="275.7" r="1.7" fill="#fff" stroke="#2a2a2a" stroke-width="0.8"/>
<circle cx="370.6" cy="271.5" r="1.7" fill="#fff" stroke="#2a2a2a" stroke-width="0.8"/>
<circle cx="370.6" cy="269.2" r="1.7" fill="#fff" stroke="#2a2a2a" stroke-width="0.8"/>
<circle cx="370.6" cy="266.7" r="1.7" fill="#fff" stroke="#2a2a2a" stroke-width="0.8"/>
<circle cx="370.6" cy="264.3" r="1.7" fill="#fff" stroke="#2a2a2a" stroke-width="0.8"/>
<circle cx="370.6" cy="261.8" r="1.7" fill="#fff" stroke="#2a2a2a" stroke-width="0.8"/>
<circle cx="370.6" cy="248.8" r="1.7" fill="#fff" stroke="#2a2a2a" stroke-width="0.8"/>
<circle cx="375.8" cy="287.0" r="2.05" fill="#111"/>
<circle cx="375.8" cy="282.9" r="2.05" fill="#111"/>
<circle cx="375.8" cy="280.6" r="2.05" fill="#111"/>
<circle cx="381.0" cy="271.5" r="2.05" fill="#111"/>
<circle cx="381.0" cy="267.6" r="2.05" fill="#111"/>
<circle cx="381.0" cy="265.0" r="2.05" fill="#111"/>
<circle cx="381.0" cy="262.7" r="2.05" fill="#111"/>
<circle cx="381.0" cy="255.3" r="2.05" fill="#111"/>
<circle cx="381.0" cy="249.7" r="2.05" fill="#111"/>
<circle cx="381.0" cy="247.2" r="2.05" fill="#111"/>
<circle cx="381.0" cy="236.0" r="2.05" fill="#111"/>
<circle cx="381.0" cy="287.8" r="1.7" fill="#fff" stroke="#2a2a2a" stroke-width="0.8"/>
<circle cx="381.0" cy="284.5" r="1.7" fill="#fff" stroke="#2a2a2a" stroke-width="0.8"/>
<circle cx="381.0" cy="282.2" r="1.7" fill="#fff" stroke="#2a2a2a" stroke-width="0.8"/>
<circle cx="381.0" cy="278.9" r="1.7" fill="#fff" stroke="#2a2a2a" stroke-width="0.8"/>
<circle cx="381.0" cy="276.4" r="1.7" fill="#fff" stroke="#2a2a2a" stroke-width="0.8"/>
<circle cx="381.0" cy="274.1" r="1.7" fill="#fff" stroke="#2a2a2a" stroke-width="0.8"/>
<circle cx="386.2" cy="287.8" r="2.05" fill="#111"/>
<circle cx="386.2" cy="278.0" r="2.05" fill="#111"/>
<circle cx="386.2" cy="275.7" r="2.05" fill="#111"/>
<circle cx="386.2" cy="273.1" r="2.05" fill="#111"/>
<circle cx="386.2" cy="270.8" r="2.05" fill="#111"/>
<circle cx="386.2" cy="259.4" r="2.05" fill="#111"/>
<circle cx="386.2" cy="225.9" r="2.05" fill="#111"/>
<circle cx="386.2" cy="281.3" r="1.7" fill="#fff" stroke="#2a2a2a" stroke-width="0.8"/>
<circle cx="66.3" cy="291.2" r="1.8" fill="#fff" stroke="#2a2a2a" stroke-width="0.8"/>
<circle cx="71.4" cy="291.2" r="1.8" fill="#fff" stroke="#2a2a2a" stroke-width="0.8"/>
<circle cx="76.6" cy="291.2" r="1.8" fill="#fff" stroke="#2a2a2a" stroke-width="0.8"/>
<circle cx="81.7" cy="291.2" r="1.8" fill="#fff" stroke="#2a2a2a" stroke-width="0.8"/>
<circle cx="86.9" cy="291.2" r="1.8" fill="#fff" stroke="#2a2a2a" stroke-width="0.8"/>
<circle cx="92.0" cy="291.2" r="1.8" fill="#fff" stroke="#2a2a2a" stroke-width="0.8"/>
<circle cx="97.2" cy="291.2" r="1.8" fill="#fff" stroke="#2a2a2a" stroke-width="0.8"/>
<circle cx="102.3" cy="291.2" r="1.8" fill="#fff" stroke="#2a2a2a" stroke-width="0.8"/>
<circle cx="107.5" cy="291.2" r="1.8" fill="#fff" stroke="#2a2a2a" stroke-width="0.8"/>
<circle cx="112.6" cy="291.2" r="1.8" fill="#fff" stroke="#2a2a2a" stroke-width="0.8"/>
<circle cx="117.8" cy="291.2" r="1.8" fill="#fff" stroke="#2a2a2a" stroke-width="0.8"/>
<circle cx="122.9" cy="291.2" r="1.8" fill="#fff" stroke="#2a2a2a" stroke-width="0.8"/>
<circle cx="128.1" cy="291.2" r="1.8" fill="#fff" stroke="#2a2a2a" stroke-width="0.8"/>
<circle cx="133.2" cy="291.2" r="1.8" fill="#fff" stroke="#2a2a2a" stroke-width="0.8"/>
<circle cx="138.3" cy="291.2" r="1.8" fill="#fff" stroke="#2a2a2a" stroke-width="0.8"/>
<circle cx="143.5" cy="291.2" r="1.8" fill="#fff" stroke="#2a2a2a" stroke-width="0.8"/>
<circle cx="148.6" cy="291.2" r="1.8" fill="#fff" stroke="#2a2a2a" stroke-width="0.8"/>
<circle cx="153.8" cy="291.2" r="1.8" fill="#fff" stroke="#2a2a2a" stroke-width="0.8"/>
<circle cx="158.9" cy="291.2" r="1.8" fill="#fff" stroke="#2a2a2a" stroke-width="0.8"/>
<circle cx="164.1" cy="291.2" r="1.8" fill="#fff" stroke="#2a2a2a" stroke-width="0.8"/>
<circle cx="169.2" cy="291.2" r="1.8" fill="#fff" stroke="#2a2a2a" stroke-width="0.8"/>
<circle cx="174.4" cy="291.2" r="1.8" fill="#fff" stroke="#2a2a2a" stroke-width="0.8"/>
<circle cx="179.5" cy="291.2" r="1.8" fill="#fff" stroke="#2a2a2a" stroke-width="0.8"/>
<circle cx="184.7" cy="291.2" r="1.8" fill="#fff" stroke="#2a2a2a" stroke-width="0.8"/>
<circle cx="189.8" cy="291.2" r="1.8" fill="#fff" stroke="#2a2a2a" stroke-width="0.8"/>
<circle cx="194.9" cy="291.2" r="1.8" fill="#fff" stroke="#2a2a2a" stroke-width="0.8"/>
<circle cx="200.1" cy="291.2" r="1.8" fill="#fff" stroke="#2a2a2a" stroke-width="0.8"/>
<circle cx="205.2" cy="291.2" r="1.8" fill="#fff" stroke="#2a2a2a" stroke-width="0.8"/>
<circle cx="210.4" cy="291.2" r="1.8" fill="#fff" stroke="#2a2a2a" stroke-width="0.8"/>
<circle cx="215.5" cy="291.2" r="1.8" fill="#fff" stroke="#2a2a2a" stroke-width="0.8"/>
<circle cx="220.7" cy="291.2" r="1.8" fill="#fff" stroke="#2a2a2a" stroke-width="0.8"/>
<circle cx="225.8" cy="291.2" r="1.8" fill="#fff" stroke="#2a2a2a" stroke-width="0.8"/>
<circle cx="231.0" cy="291.2" r="1.8" fill="#fff" stroke="#2a2a2a" stroke-width="0.8"/>
<circle cx="236.1" cy="291.2" r="1.8" fill="#fff" stroke="#2a2a2a" stroke-width="0.8"/>
<circle cx="241.3" cy="291.2" r="1.8" fill="#fff" stroke="#2a2a2a" stroke-width="0.8"/>
<circle cx="246.4" cy="291.2" r="1.8" fill="#fff" stroke="#2a2a2a" stroke-width="0.8"/>
<circle cx="251.6" cy="291.2" r="1.8" fill="#fff" stroke="#2a2a2a" stroke-width="0.8"/>
<circle cx="256.7" cy="291.2" r="1.8" fill="#fff" stroke="#2a2a2a" stroke-width="0.8"/>
<circle cx="261.8" cy="291.2" r="1.8" fill="#fff" stroke="#2a2a2a" stroke-width="0.8"/>
<circle cx="267.0" cy="291.2" r="1.8" fill="#fff" stroke="#2a2a2a" stroke-width="0.8"/>
<circle cx="272.1" cy="291.2" r="1.8" fill="#fff" stroke="#2a2a2a" stroke-width="0.8"/>
<circle cx="277.3" cy="291.2" r="1.8" fill="#fff" stroke="#2a2a2a" stroke-width="0.8"/>
<circle cx="282.4" cy="291.2" r="1.8" fill="#fff" stroke="#2a2a2a" stroke-width="0.8"/>
<circle cx="287.6" cy="291.2" r="1.8" fill="#fff" stroke="#2a2a2a" stroke-width="0.8"/>
<circle cx="292.7" cy="291.2" r="1.8" fill="#fff" stroke="#2a2a2a" stroke-width="0.8"/>
<circle cx="297.9" cy="291.2" r="1.8" fill="#fff" stroke="#2a2a2a" stroke-width="0.8"/>
<circle cx="303.0" cy="291.2" r="1.8" fill="#fff" stroke="#2a2a2a" stroke-width="0.8"/>
<circle cx="308.2" cy="291.2" r="1.8" fill="#fff" stroke="#2a2a2a" stroke-width="0.8"/>
<circle cx="313.4" cy="291.2" r="1.8" fill="#fff" stroke="#2a2a2a" stroke-width="0.8"/>
<circle cx="318.6" cy="291.2" r="1.8" fill="#fff" stroke="#2a2a2a" stroke-width="0.8"/>
<circle cx="323.8" cy="291.2" r="1.8" fill="#fff" stroke="#2a2a2a" stroke-width="0.8"/>
<circle cx="329.0" cy="291.2" r="1.8" fill="#fff" stroke="#2a2a2a" stroke-width="0.8"/>
<circle cx="334.2" cy="291.2" r="1.8" fill="#fff" stroke="#2a2a2a" stroke-width="0.8"/>
<circle cx="339.4" cy="291.2" r="1.8" fill="#fff" stroke="#2a2a2a" stroke-width="0.8"/>
<circle cx="344.6" cy="291.2" r="1.8" fill="#fff" stroke="#2a2a2a" stroke-width="0.8"/>
<circle cx="349.8" cy="291.2" r="1.8" fill="#fff" stroke="#2a2a2a" stroke-width="0.8"/>
<circle cx="355.0" cy="291.2" r="1.8" fill="#fff" stroke="#2a2a2a" stroke-width="0.8"/>
<circle cx="360.2" cy="291.2" r="1.8" fill="#fff" stroke="#2a2a2a" stroke-width="0.8"/>
<circle cx="365.4" cy="291.2" r="1.8" fill="#fff" stroke="#2a2a2a" stroke-width="0.8"/>
<circle cx="370.6" cy="291.2" r="1.8" fill="#fff" stroke="#2a2a2a" stroke-width="0.8"/>
<circle cx="375.8" cy="291.2" r="1.8" fill="#fff" stroke="#2a2a2a" stroke-width="0.8"/>
<circle cx="381.0" cy="291.2" r="1.8" fill="#fff" stroke="#2a2a2a" stroke-width="0.8"/>
<circle cx="386.2" cy="291.2" r="1.8" fill="#fff" stroke="#2a2a2a" stroke-width="0.8"/>
<circle cx="194.9" cy="368.1" r="2.05" fill="#111"/>
<circle cx="205.2" cy="337.8" r="1.7" fill="#fff" stroke="#2a2a2a" stroke-width="0.8"/>
<circle cx="287.6" cy="357.3" r="2.05" fill="#111"/>
<circle cx="287.6" cy="367.0" r="1.7" fill="#fff" stroke="#2a2a2a" stroke-width="0.8"/>
<circle cx="287.6" cy="379.1" r="1.7" fill="#fff" stroke="#2a2a2a" stroke-width="0.8"/>
<circle cx="329.0" cy="372.0" r="1.7" fill="#fff" stroke="#2a2a2a" stroke-width="0.8"/>
<circle cx="339.4" cy="359.1" r="2.05" fill="#111"/>
<circle cx="349.8" cy="367.0" r="2.05" fill="#111"/>
<circle cx="349.8" cy="380.5" r="2.05" fill="#111"/>
<circle cx="349.8" cy="316.6" r="1.7" fill="#fff" stroke="#2a2a2a" stroke-width="0.8"/>
<circle cx="349.8" cy="374.9" r="1.7" fill="#fff" stroke="#2a2a2a" stroke-width="0.8"/>
<circle cx="360.2" cy="361.6" r="2.05" fill="#111"/>
<circle cx="370.6" cy="327.9" r="2.05" fill="#111"/>
<circle cx="370.6" cy="341.4" r="2.05" fill="#111"/>
<circle cx="370.6" cy="361.4" r="2.05" fill="#111"/>
<circle cx="370.6" cy="375.3" r="1.7" fill="#fff" stroke="#2a2a2a" stroke-width="0.8"/>
<circle cx="381.0" cy="373.8" r="2.05" fill="#111"/>
<circle cx="381.0" cy="376.2" r="2.05" fill="#111"/>
<text x="59.6" y="430.9" font-size="8.4" font-weight="bold" text-anchor="end" fill="#0a0a0a" stroke="#0a0a0a" stroke-width="0.2">KIR2DL1</text>
<rect x="64.70" y="424.6" width="162.45" height="7.0" fill="#111"/>
<text x="59.6" y="440.8" font-size="8.4" font-weight="bold" text-anchor="end" fill="#0a0a0a" stroke="#0a0a0a" stroke-width="0.2">KIR2DL1/S1</text>
<rect x="64.70" y="434.5" width="80.85" height="7.0" fill="#111"/>
<rect x="227.90" y="434.5" width="82.21" height="7.0" fill="#111"/>
<text x="59.6" y="450.8" font-size="8.4" font-weight="bold" text-anchor="end" fill="#0a0a0a" stroke="#0a0a0a" stroke-width="0.2">KIR2DL2/S2/L3</text>
<rect x="64.70" y="444.5" width="40.05" height="7.0" fill="#111"/>
<rect x="146.30" y="444.5" width="40.05" height="7.0" fill="#111"/>
<rect x="227.90" y="444.5" width="40.73" height="7.0" fill="#111"/>
<rect x="310.86" y="444.5" width="40.73" height="7.0" fill="#111"/>
<text x="59.6" y="460.7" font-size="8.4" font-weight="bold" text-anchor="end" fill="#0a0a0a" stroke="#0a0a0a" stroke-width="0.2">KIR2DL3</text>
<rect x="64.70" y="454.4" width="19.65" height="7.0" fill="#111"/>
<rect x="105.50" y="454.4" width="19.65" height="7.0" fill="#111"/>
<rect x="146.30" y="454.4" width="19.65" height="7.0" fill="#111"/>
<rect x="187.10" y="454.4" width="19.65" height="7.0" fill="#111"/>
<rect x="227.90" y="454.4" width="19.99" height="7.0" fill="#111"/>
<rect x="269.38" y="454.4" width="19.99" height="7.0" fill="#111"/>
<rect x="310.86" y="454.4" width="19.99" height="7.0" fill="#111"/>
<rect x="352.34" y="454.4" width="19.99" height="7.0" fill="#111"/>
<text x="59.6" y="470.7" font-size="8.4" font-weight="bold" text-anchor="end" fill="#0a0a0a" stroke="#0a0a0a" stroke-width="0.2">KIR2DS4</text>
<rect x="64.70" y="464.4" width="9.45" height="7.0" fill="#111"/>
<rect x="85.10" y="464.4" width="9.45" height="7.0" fill="#111"/>
<rect x="105.50" y="464.4" width="9.45" height="7.0" fill="#111"/>
<rect x="125.90" y="464.4" width="9.45" height="7.0" fill="#111"/>
<rect x="146.30" y="464.4" width="9.45" height="7.0" fill="#111"/>
<rect x="166.70" y="464.4" width="9.45" height="7.0" fill="#111"/>
<rect x="187.10" y="464.4" width="9.45" height="7.0" fill="#111"/>
<rect x="207.50" y="464.4" width="9.45" height="7.0" fill="#111"/>
<rect x="227.90" y="464.4" width="9.62" height="7.0" fill="#111"/>
<rect x="248.64" y="464.4" width="9.62" height="7.0" fill="#111"/>
<rect x="269.38" y="464.4" width="9.62" height="7.0" fill="#111"/>
<rect x="290.12" y="464.4" width="9.62" height="7.0" fill="#111"/>
<rect x="310.86" y="464.4" width="9.62" height="7.0" fill="#111"/>
<rect x="331.60" y="464.4" width="9.62" height="7.0" fill="#111"/>
<rect x="352.34" y="464.4" width="9.62" height="7.0" fill="#111"/>
<rect x="373.08" y="464.4" width="9.62" height="7.0" fill="#111"/>
<text x="59.6" y="480.7" font-size="8.4" font-weight="bold" text-anchor="end" fill="#0a0a0a" stroke="#0a0a0a" stroke-width="0.2">KIR3DL1</text>
<rect x="64.70" y="474.4" width="4.35" height="7.0" fill="#111"/>
<rect x="74.90" y="474.4" width="4.35" height="7.0" fill="#111"/>
<rect x="85.10" y="474.4" width="4.35" height="7.0" fill="#111"/>
<rect x="95.30" y="474.4" width="4.35" height="7.0" fill="#111"/>
<rect x="105.50" y="474.4" width="4.35" height="7.0" fill="#111"/>
<rect x="115.70" y="474.4" width="4.35" height="7.0" fill="#111"/>
<rect x="125.90" y="474.4" width="4.35" height="7.0" fill="#111"/>
<rect x="136.10" y="474.4" width="4.35" height="7.0" fill="#111"/>
<rect x="146.30" y="474.4" width="4.35" height="7.0" fill="#111"/>
<rect x="156.50" y="474.4" width="4.35" height="7.0" fill="#111"/>
<rect x="166.70" y="474.4" width="4.35" height="7.0" fill="#111"/>
<rect x="176.90" y="474.4" width="4.35" height="7.0" fill="#111"/>
<rect x="187.10" y="474.4" width="4.35" height="7.0" fill="#111"/>
<rect x="197.30" y="474.4" width="4.35" height="7.0" fill="#111"/>
<rect x="207.50" y="474.4" width="4.35" height="7.0" fill="#111"/>
<rect x="217.70" y="474.4" width="4.35" height="7.0" fill="#111"/>
<rect x="227.90" y="474.4" width="4.44" height="7.0" fill="#111"/>
<rect x="238.27" y="474.4" width="4.44" height="7.0" fill="#111"/>
<rect x="248.64" y="474.4" width="4.44" height="7.0" fill="#111"/>
<rect x="259.01" y="474.4" width="4.44" height="7.0" fill="#111"/>
<rect x="269.38" y="474.4" width="4.44" height="7.0" fill="#111"/>
<rect x="279.75" y="474.4" width="4.43" height="7.0" fill="#111"/>
<rect x="290.12" y="474.4" width="4.43" height="7.0" fill="#111"/>
<rect x="300.49" y="474.4" width="4.44" height="7.0" fill="#111"/>
<rect x="310.86" y="474.4" width="4.44" height="7.0" fill="#111"/>
<rect x="321.23" y="474.4" width="4.44" height="7.0" fill="#111"/>
<rect x="331.60" y="474.4" width="4.44" height="7.0" fill="#111"/>
<rect x="341.97" y="474.4" width="4.44" height="7.0" fill="#111"/>
<rect x="352.34" y="474.4" width="4.44" height="7.0" fill="#111"/>
<rect x="362.71" y="474.4" width="4.44" height="7.0" fill="#111"/>
<rect x="373.08" y="474.4" width="4.44" height="7.0" fill="#111"/>
<rect x="383.45" y="474.4" width="4.44" height="7.0" fill="#111"/>
<circle cx="406.0" cy="219.7" r="2.35" fill="#fff" stroke="#222" stroke-width="0.85"/>
<circle cx="406.0" cy="238.5" r="2.6" fill="#111"/>
<text x="413.3" y="223.6" font-size="10.4" text-anchor="start" fill="#111" >Uterine NK cells</text>
<text x="413.3" y="242.3" font-size="10.4" text-anchor="start" fill="#111" >Peripheral blood cNK cells</text>
<circle cx="500.5" cy="370.0" r="63.8" fill="#fff" stroke="#222" stroke-width="0.8"/>
<circle cx="482.5" cy="369.6" r="18.4" fill="#d2d2d2" stroke="#333" stroke-width="0.9"/>
<circle cx="523.9" cy="369.3" r="41.3" fill="#151515"/>
<clipPath id="cpv"><circle cx="523.9" cy="369.3" r="41.3"/></clipPath>
<circle cx="482.5" cy="369.6" r="18.4" fill="#505050" stroke="#5e5e5e" stroke-width="0.9" clip-path="url(#cpv)"/>
<text transform="translate(474.8,372.9) scale(0.88,1)" font-size="11.7" text-anchor="middle" fill="#222">4</text>
<text transform="translate(491.5,372.9) scale(0.88,1)" font-size="11.7" text-anchor="middle" fill="#fff">3</text>
<text transform="translate(525.2,372.9) scale(0.88,1)" font-size="11.7" text-anchor="middle" fill="#fff">13</text>
<text transform="translate(500.6,446.8) scale(0.94,1)" font-size="10.8" text-anchor="middle" fill="#222">Unique and shared self-KIR<tspan font-size="6.5" dy="-4">+</tspan></text>
<text transform="translate(500.4,459.0) scale(0.94,1)" font-size="10.8" text-anchor="middle" fill="#222">expansions among all donors (<tspan font-style="italic">n</tspan><tspan dx="1.2">=</tspan><tspan dx="1.2">25)</tspan></text>
</svg>
</body></html>
